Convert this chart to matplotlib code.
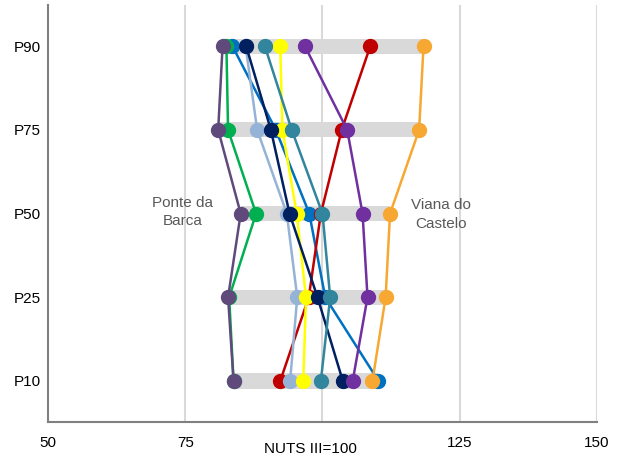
import matplotlib.pyplot as plt

# percentis (P10 -> P90), indice NUTS III = 100
levels = ['P10', 'P25', 'P50', 'P75', 'P90']

# séries, pela ordem de desenho (de baixo para cima)
blue       = [110.2, 100.5, 97.6, 91.5, 83.6]
red        = [92.3, 97.5, 99.7, 103.5, 108.7]
lightblue  = [94.1, 95.4, 93.5, 88.1, 86.0]
green      = [83.8, 83.0, 87.9, 82.8, 82.5]
yellow     = [96.5, 97.0, 95.3, 92.7, 92.3]
navy       = [103.7, 99.1, 94.0, 90.6, 86.1]
teal       = [99.7, 101.4, 100.0, 94.4, 89.5]
purple     = [105.5, 108.2, 107.3, 104.5, 96.8]
ponte_barca = [83.8, 82.8, 85.1, 81.0, 81.8]
viana_castelo = [109.1, 111.5, 112.3, 117.6, 118.4]

series = [
    (blue, '#0070C0'),
    (red, '#C00000'),
    (lightblue, '#95B3D7'),
    (green, '#00B050'),
    (yellow, '#FFFF00'),
    (navy, '#002060'),
    (teal, '#31859C'),
    (purple, '#7030A0'),
    (ponte_barca, '#604A7B'),
    (viana_castelo, '#F7A833'),
]

plt.rcParams['font.family'] = ['Liberation Sans', 'DejaVu Sans']

fig = plt.figure(figsize=(6.2, 4.57), dpi=100)
ax = fig.add_axes([0.0774, 0.0766, 0.8855, 0.912])

ypos = list(range(len(levels)))

# barras cinzentas: amplitude min-max em cada percentil
lo = [min(s[0][i] for s in series) for i in ypos]
hi = [max(s[0][i] for s in series) for i in ypos]
ax.barh(ypos, [h - l for l, h in zip(lo, hi)], left=lo, height=0.18,
        color='#D9D9D9', zorder=1)

for k, (vals, col) in enumerate(series):
    ax.plot(vals, ypos, color=col, lw=1.8, marker='o', ms=10,
            zorder=3 + k)

for x in [75, 100, 125, 150]:
    ax.axvline(x, color='#D9D9D9', lw=1.5, zorder=0)

ax.set_xlim(50, 150)
ax.set_ylim(-0.49, 4.49)
ax.set_yticks(ypos)
ax.set_yticklabels(levels, fontsize=11)
ax.set_xticks([50, 75, 125, 150])
ax.set_xticklabels(['50', '75', '125', '150'], fontsize=11)
ax.tick_params(length=0, pad=10)
ax.tick_params(axis='y', pad=5)

ax.text(97.8, -0.81, 'NUTS III=100', ha='center', va='center', fontsize=11)

ax.text(74.5, 2.02, 'Ponte da\nBarca', ha='center', va='center',
        fontsize=11, color='#595959', linespacing=1.4)
ax.text(121.5, 1.99, 'Viana do\nCastelo', ha='center', va='center',
        fontsize=11, color='#595959', linespacing=1.4)

for side in ['top', 'right']:
    ax.spines[side].set_visible(False)
for side in ['left', 'bottom']:
    ax.spines[side].set_color('#808080')
    ax.spines[side].set_linewidth(1.5)

fig.savefig('out.png', dpi=100)
